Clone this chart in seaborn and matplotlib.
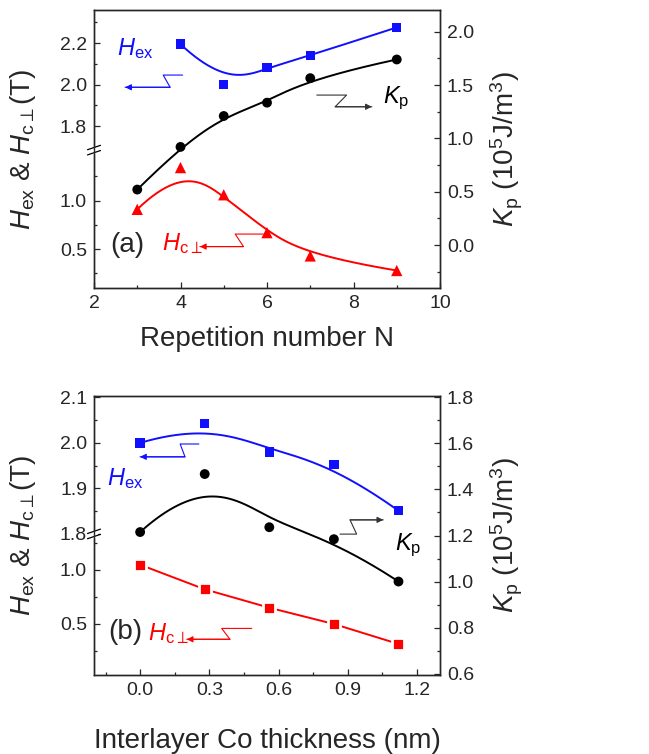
import numpy as np
import matplotlib
matplotlib.use('Agg')
import matplotlib.pyplot as plt
import seaborn as sns
from matplotlib.ticker import FixedLocator, MultipleLocator, FormatStrFormatter
from matplotlib.patches import Rectangle

# panel (a): vs repetition number N
rep_n = [3, 4, 5, 6, 7, 9]
rep_hc = [0.91, 1.34, 1.06, 0.67, 0.43, 0.28]
rep_kp = [0.52, 0.92, 1.21, 1.335, 1.565, 1.74]
rep_n_hex = [4, 5, 6, 7, 9]
rep_hex = [2.195, 2.00, 2.083, 2.14, 2.276]

# panel (b): vs interlayer Co thickness (nm)
co_t = [0.0, 0.28, 0.56, 0.84, 1.12]
co_hex = [2.00, 2.042, 1.98, 1.952, 1.851]
co_hc = [1.046, 0.82, 0.65, 0.50, 0.316]
co_kp = [1.215, 1.467, 1.236, 1.184, 1.00]

BLUE = '#1010ff'
RED = '#ff0000'

sns.set_style('ticks')
plt.rcParams['font.family'] = ['Liberation Sans', 'DejaVu Sans']
plt.rcParams['mathtext.fontset'] = 'custom'
plt.rcParams['mathtext.rm'] = 'Liberation Sans'
plt.rcParams['mathtext.it'] = 'Liberation Sans:italic'
plt.rcParams['axes.linewidth'] = 1.0


def bspline(xs, ys, k=3, num=300):
    '''clamped B-spline using the data points as control points (Origin style)'''
    pts = np.column_stack([xs, ys]).astype(float)
    n = len(pts)
    k = min(k, n - 1)
    knots = np.concatenate([np.zeros(k), np.linspace(0, 1, n - k + 1), np.ones(k)])
    t = np.linspace(0, 1, num)
    t[-1] -= 1e-9

    def basis(i, d, t):
        if d == 0:
            return ((knots[i] <= t) & (t < knots[i + 1])).astype(float)
        out = np.zeros_like(t)
        den1 = knots[i + d] - knots[i]
        den2 = knots[i + d + 1] - knots[i + 1]
        if den1 > 0:
            out += (t - knots[i]) / den1 * basis(i, d - 1, t)
        if den2 > 0:
            out += (knots[i + d + 1] - t) / den2 * basis(i + 1, d - 1, t)
        return out

    B = np.array([basis(i, k, t) for i in range(n)])
    curve = B.T @ pts
    return curve[:, 0], curve[:, 1]


def broken(lo, b_lo, b_hi, s_lo, s_hi):
    '''piecewise linear scale with a gap between b_lo and b_hi'''
    h_lo = (b_lo - lo) * s_lo

    def fwd(v):
        v = np.asarray(v, float)
        return np.where(v <= b_lo, (v - lo) * s_lo,
                        np.where(v >= b_hi, h_lo + (v - b_hi) * s_hi, h_lo))

    def inv(y):
        y = np.asarray(y, float)
        return np.where(y <= h_lo, lo + y / s_lo, b_hi + (y - h_lo) / s_hi)
    return fwd, inv


def curve(ax, x, y, color):
    cx, cy = bspline(x, y)
    sns.lineplot(x=cx, y=cy, ax=ax, color=color, lw=1.4, sort=False, estimator=None)


def points(ax, x, y, color, marker, s, edge='none', lw=0):
    sns.scatterplot(x=x, y=y, ax=ax, color=color, marker=marker, s=s,
                    edgecolor=edge, linewidth=lw, zorder=5)


def zigzag(ax, pts, color, tip_first=True):
    xs = [p[0] for p in pts]
    ys = [p[1] for p in pts]
    ax.plot(xs, ys, color=color, lw=0.8, transform=ax.transAxes, clip_on=False)
    if tip_first:
        tip, prev = pts[0], pts[1]
    else:
        tip, prev = pts[-1], pts[-2]
    ax.annotate('', xy=tip, xytext=prev, xycoords='axes fraction',
                arrowprops=dict(arrowstyle='-|>', color=color, lw=0.8,
                                mutation_scale=9, shrinkA=0, shrinkB=0))


def break_mark(ax, frac, wpx, hpx):
    dx = 6.5 / wpx
    dy = 2.2 / hpx
    gap = 2.6 / hpx
    ax.add_patch(Rectangle((-0.01, frac - gap), 0.02, 2 * gap, transform=ax.transAxes,
                           color='white', clip_on=False, zorder=10))
    for off in (-gap, gap):
        ax.plot([-dx, dx], [frac + off - dy, frac + off + dy], color='black', lw=0.9,
                transform=ax.transAxes, clip_on=False, zorder=11)


def style_axes(ax, ax2):
    ax.tick_params(axis='both', which='both', direction='in', labelsize=14, pad=5,
                   right=False, top=False)
    ax.tick_params(which='major', length=4.5, width=0.9)
    ax.tick_params(which='minor', length=2.5, width=0.9)
    ax2.tick_params(axis='y', which='both', direction='in', labelsize=14, pad=5)
    ax2.tick_params(which='major', length=4.5, width=0.9)
    ax2.tick_params(which='minor', length=2.5, width=0.9)
    ax.yaxis.set_major_formatter(FormatStrFormatter('%.1f'))
    ax2.yaxis.set_major_formatter(FormatStrFormatter('%.1f'))
    ax.set_ylabel(r'$H_{\rm ex}$ & $H_{\rm c\perp}$(T)', fontsize=20)
    ax2.set_ylabel(r'$K_{\rm p}$ (10$^{5}$J/m$^{3}$)', fontsize=20)
    ax.yaxis.set_label_coords(-0.162, 0.5)
    ax2.yaxis.set_label_coords(1.14, 0.5)


fig = plt.figure(figsize=(6.49, 7.54), dpi=100)
W, H = 649, 754
axw = 346

# ---------- panel (a) ----------
ax = fig.add_axes([94 / W, 1 - 288 / H, axw / W, 278 / H])
fwd, inv = broken(0.1, 1.52, 1.684, 97.2, 207.5)
ax.set_yscale('function', functions=(fwd, inv))
ax.set_ylim(0.1, 2.36)
ax.set_xlim(2, 10)
ax2 = ax.twinx()
ax2.set_ylim(-0.403, 2.204)

curve(ax, rep_n_hex, rep_hex, BLUE)
points(ax, rep_n_hex, rep_hex, BLUE, 's', 46)
curve(ax, rep_n, rep_hc, RED)
points(ax, rep_n, rep_hc, RED, '^', 66)
curve(ax2, rep_n, rep_kp, 'black')
points(ax2, rep_n, rep_kp, 'black', 'o', 50)

ax.xaxis.set_major_locator(MultipleLocator(2))
ax.xaxis.set_minor_locator(MultipleLocator(1))
ax.yaxis.set_major_locator(FixedLocator([0.5, 1.0, 1.8, 2.0, 2.2]))
ax.yaxis.set_minor_locator(FixedLocator([0.25, 0.75, 1.25, 1.9, 2.1, 2.3]))
ax2.yaxis.set_major_locator(MultipleLocator(0.5))
ax2.yaxis.set_minor_locator(MultipleLocator(0.25))
style_axes(ax, ax2)
ax.xaxis.set_major_formatter(FormatStrFormatter('%d'))
ax.set_xlabel('Repetition number N', fontsize=20)
ax.xaxis.set_label_coords(0.5, -0.135)

zigzag(ax, [(0.090, 0.722), (0.220, 0.722), (0.200, 0.766), (0.256, 0.766)], BLUE)
zigzag(ax, [(0.644, 0.694), (0.730, 0.694), (0.697, 0.652), (0.803, 0.652)], '#333333',
       tip_first=False)
zigzag(ax, [(0.306, 0.149), (0.432, 0.149), (0.408, 0.194), (0.489, 0.194)], RED)
ax.text(0.066, 0.838, r'$H_{\rm ex}$', color=BLUE, fontsize=17, transform=ax.transAxes,
        va='baseline')
ax.text(0.835, 0.665, r'$K_{\rm p}$', color='black', fontsize=17, transform=ax.transAxes,
        va='baseline')
ax.text(0.046, 0.155, '(a)', fontsize=20, transform=ax.transAxes, va='center')
ax.text(0.197, 0.137, r'$H_{\rm c\perp}$', color=RED, fontsize=17, transform=ax.transAxes,
        va='baseline')
fa = (fwd(1.52) - fwd(0.1)) / (fwd(2.36) - fwd(0.1))
break_mark(ax, float(fa), axw, 278)

# ---------- panel (b) ----------
bx = fig.add_axes([94 / W, 1 - 675 / H, axw / W, 279 / H])
fwd_b, inv_b = broken(0.03, 1.33, 1.8, 108.7, 456.0)
bx.set_yscale('function', functions=(fwd_b, inv_b))
bx.set_ylim(0.03, 2.103)
bx.set_xlim(-0.2, 1.3)
bx2 = bx.twinx()
bx2.set_ylim(0.594, 1.806)

curve(bx, co_t, co_hex, BLUE)
points(bx, co_t, co_hex, BLUE, 's', 46)
sns.lineplot(x=co_t, y=co_hc, ax=bx, color=RED, lw=1.4, sort=False, estimator=None)
points(bx, co_t, co_hc, RED, 's', 80, edge='white', lw=2.0)
curve(bx2, co_t, co_kp, 'black')
points(bx2, co_t, co_kp, 'black', 'o', 50)

bx.xaxis.set_major_locator(FixedLocator([0.0, 0.3, 0.6, 0.9, 1.2]))
bx.xaxis.set_minor_locator(FixedLocator([-0.15, 0.15, 0.45, 0.75, 1.05]))
bx.yaxis.set_major_locator(FixedLocator([0.5, 1.0, 1.8, 1.9, 2.0, 2.1]))
bx.yaxis.set_minor_locator(FixedLocator([0.25, 0.75, 1.25, 1.85, 1.95, 2.05]))
bx2.yaxis.set_major_locator(MultipleLocator(0.2))
bx2.yaxis.set_minor_locator(MultipleLocator(0.1))
style_axes(bx, bx2)
bx.xaxis.set_major_formatter(FormatStrFormatter('%.1f'))
bx.set_xlabel('Interlayer Co thickness (nm)', fontsize=20)
bx.xaxis.set_label_coords(0.5, -0.19)

zigzag(bx, [(0.133, 0.782), (0.263, 0.782), (0.249, 0.828), (0.303, 0.828)], BLUE)
zigzag(bx, [(0.711, 0.505), (0.759, 0.505), (0.740, 0.556), (0.836, 0.556)], '#333333',
       tip_first=False)
zigzag(bx, [(0.268, 0.128), (0.393, 0.128), (0.369, 0.167), (0.456, 0.167)], RED)
bx.text(0.038, 0.681, r'$H_{\rm ex}$', color=BLUE, fontsize=17, transform=bx.transAxes,
        va='baseline')
bx.text(0.87, 0.448, r'$K_{\rm p}$', color='black', fontsize=17, transform=bx.transAxes,
        va='baseline')
bx.text(0.04, 0.154, '(b)', fontsize=20, transform=bx.transAxes, va='center')
bx.text(0.156, 0.125, r'$H_{\rm c\perp}$', color=RED, fontsize=17, transform=bx.transAxes,
        va='baseline')
fb = (fwd_b(1.33) - fwd_b(0.03)) / (fwd_b(2.103) - fwd_b(0.03))
break_mark(bx, float(fb), axw, 279)

fig.savefig('out.png', dpi=100)
